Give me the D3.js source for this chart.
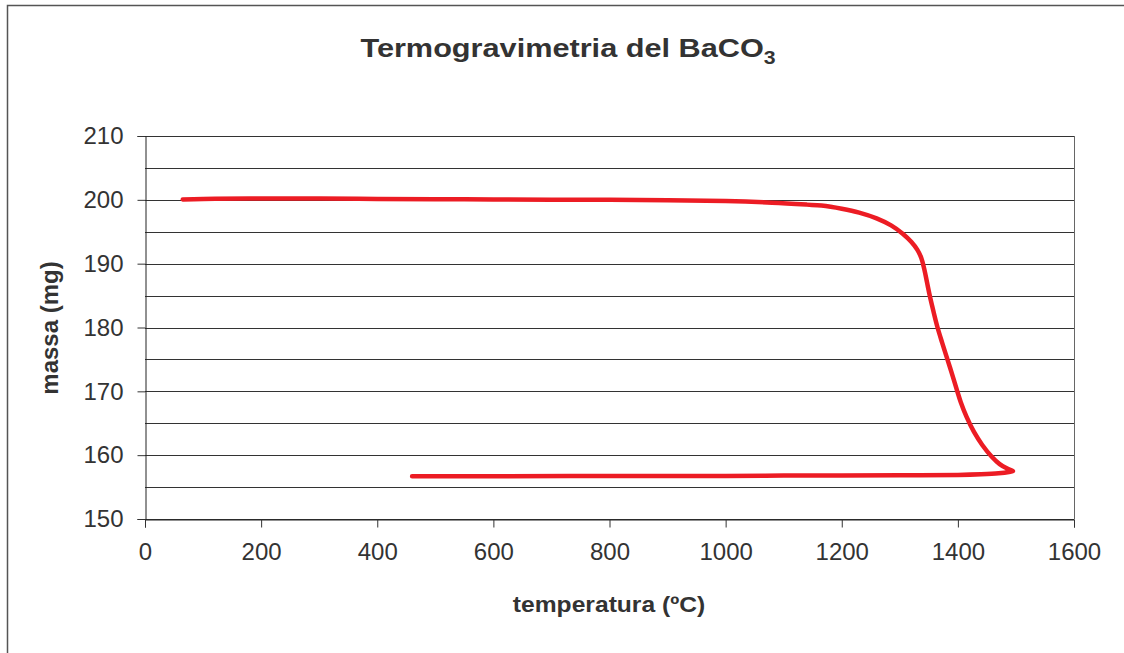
<!DOCTYPE html>
<html>
<head>
<meta charset="utf-8">
<script src="https://cdn.jsdelivr.net/npm/d3@7"></script>
<style>
  html, body { margin: 0; padding: 0; background: #fff; }
  svg { display: block; font-family: "Liberation Sans", Arial, sans-serif; }
</style>
</head>
<body>
<svg id="chart" width="1124" height="653"></svg>
<script>
// Thermogravimetric run of BaCO3: heating branch then cooling branch
const temperature = [65, 100, 200, 300, 400, 500, 600, 700, 800, 900, 1000, 1080, 1140, 1165, 1200, 1230, 1260, 1285, 1305, 1320, 1330, 1337, 1342, 1347, 1352, 1358, 1365, 1373, 1382, 1390, 1398, 1405, 1415, 1428, 1442, 1458, 1472, 1485, 1495,
                     1488, 1470, 1440, 1400, 1300, 1200, 1100, 1000, 800, 600, 460];
const mass = [200.05, 200.15, 200.2, 200.2, 200.15, 200.1, 200.05, 200.0, 200.0, 199.95, 199.8, 199.55, 199.25, 199.1, 198.6, 198.0, 197.1, 196.0, 194.7, 193.4, 192.2, 190.9, 189.2, 187.0, 184.8, 182.5, 180.0, 177.6, 175.0, 172.7, 170.3, 168.3, 166.0, 163.6, 161.6, 159.8, 158.6, 157.9, 157.5,
              157.35, 157.15, 157.0, 156.9, 156.85, 156.8, 156.8, 156.75, 156.75, 156.7, 156.7];

const xTicks = [0, 200, 400, 600, 800, 1000, 1200, 1400, 1600];
const yTicks = [150, 160, 170, 180, 190, 200, 210];
const yGrid = [150, 155, 160, 165, 170, 175, 180, 185, 190, 195, 200, 205, 210];

const svg = d3.select("#chart");
const plotLeft = 145, plotRight = 1074, plotTop = 136, plotBottom = 519;
const textColor = "#333";

// outer chart frame
svg.append("rect")
  .attr("x", 7.5).attr("y", 5.5)
  .attr("width", 1130).attr("height", 660)
  .attr("fill", "none").attr("stroke", "#555").attr("stroke-width", 1.5);

const x = d3.scaleLinear().domain([0, 1600]).range([plotLeft, plotRight]);
const y = d3.scaleLinear().domain([150, 210]).range([plotBottom, plotTop]);

// horizontal gridlines
svg.append("g").selectAll("line").data(yGrid).join("line")
  .attr("x1", plotLeft).attr("x2", plotRight)
  .attr("y1", d => Math.round(y(d)) + 0.5).attr("y2", d => Math.round(y(d)) + 0.5)
  .attr("stroke", "#333").attr("stroke-width", 1);

// right edge of plot area
svg.append("line")
  .attr("x1", plotRight + 0.5).attr("x2", plotRight + 0.5)
  .attr("y1", plotTop).attr("y2", plotBottom)
  .attr("stroke", "#666").attr("stroke-width", 1);

const fmt = d3.format("d");

// y axis
const yAxis = d3.axisLeft(y).tickValues(yTicks).tickFormat(fmt).tickSize(8).tickPadding(14);
const gy = svg.append("g").attr("transform", `translate(${plotLeft + 0.5},0)`).call(yAxis);
gy.select(".domain").attr("stroke", "#222");
gy.selectAll(".tick line").attr("stroke", "#333");
gy.selectAll(".tick text")
  .attr("font-size", 24).attr("fill", textColor)
  .attr("font-family", "Liberation Sans, Arial, sans-serif");

// x axis
const xAxis = d3.axisBottom(x).tickValues(xTicks).tickFormat(fmt).tickSize(8).tickPadding(15);
const gx = svg.append("g").attr("transform", `translate(0,${plotBottom + 0.5})`).call(xAxis);
gx.select(".domain").attr("stroke", "#222");
gx.selectAll(".tick line").attr("stroke", "#333");
gx.selectAll(".tick text")
  .attr("font-size", 24).attr("fill", textColor)
  .attr("font-family", "Liberation Sans, Arial, sans-serif");

// mass curve
const pts = temperature.map((t, i) => [t, mass[i]]);
svg.append("path")
  .datum(pts)
  .attr("d", d3.line().x(d => x(d[0])).y(d => y(d[1])).curve(d3.curveCatmullRom.alpha(0.5)))
  .attr("fill", "none")
  .attr("stroke", "#ec1c24")
  .attr("stroke-width", 4.5)
  .attr("stroke-linejoin", "round")
  .attr("stroke-linecap", "round");

// title with subscript (slightly wide lettering)
const title = svg.append("text")
  .attr("transform", "translate(568,57) scale(1.18,1)")
  .attr("text-anchor", "middle")
  .attr("font-size", 26).attr("font-weight", "bold").attr("fill", textColor);
title.append("tspan").text("Termogravimetria del BaCO");
title.append("tspan").attr("font-size", 18).attr("dy", 7).text("3");

// axis titles
svg.append("text")
  .attr("transform", "translate(609,612) scale(1.12,1)")
  .attr("text-anchor", "middle")
  .attr("font-size", 22).attr("font-weight", "bold").attr("fill", textColor)
  .text("temperatura (ºC)");

svg.append("text")
  .attr("transform", `translate(58,328) rotate(-90)`)
  .attr("text-anchor", "middle")
  .attr("font-size", 24).attr("font-weight", "bold").attr("fill", textColor)
  .text("massa (mg)");
</script>
</body>
</html>
